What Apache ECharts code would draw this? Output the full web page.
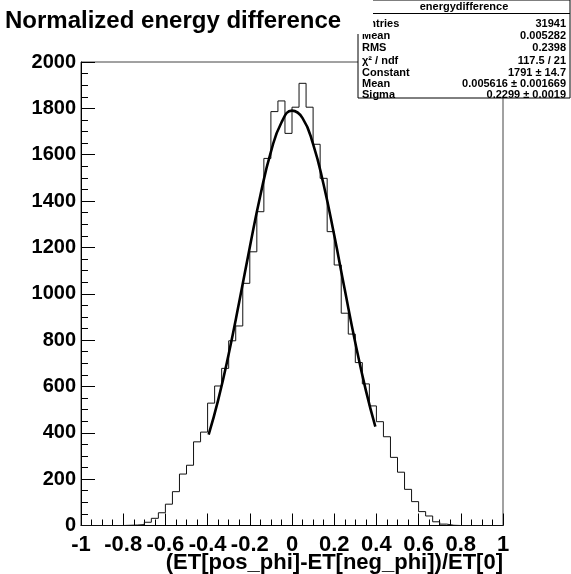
<!DOCTYPE html>
<html>
<head>
<meta charset="utf-8">
<script src="https://cdn.jsdelivr.net/npm/echarts@6/dist/echarts.min.js"></script>
<style>html,body{margin:0;padding:0;background:#fff}#c{width:571px;height:574px}</style>
</head>
<body>
<div id="c"></div>
<script>
// Histogram: 60 bins over [-1, 1]
const binLow = -1;
const binHigh = 1;
const binCounts = [0,0,0,0,0,0,1,2,4,14,31,55,92,146,222,260,361,403,528,602,678,797,861,1045,1181,1354,1584,1786,1832,1692,1805,1908,1805,1645,1498,1268,1124,916,826,703,611,516,448,383,294,230,156,103,60,41,16,6,1,0,0,0,0,0,0,0];
// Gaussian fit curve
const fitX = [-0.395,-0.35,-0.30,-0.25,-0.20,-0.15,-0.10,-0.05,0.00,0.05,0.10,0.15,0.20,0.25,0.30,0.35,0.395];
const fitY = [392,541,740,965,1201,1424,1612,1739,1790,1758,1646,1470,1253,1018,789,583,427];
const xTicks = ['-1','-0.8','-0.6','-0.4','-0.2','0','0.2','0.4','0.6','0.8','1'];
const xTitle = '(ET[pos_phi]-ET[neg_phi])/ET[0]';
const statsLabels = ['Entries','Mean','RMS','\u03c7\u00b2 / ndf','Constant','Mean','Sigma'];
const statsValues = ['31941','0.005282','0.2398','117.5 / 21','1791 \u00b1 14.7','0.005616 \u00b1 0.001669','0.2299 \u00b1 0.0019'];

const nb = binCounts.length;
const bw = (binHigh - binLow) / nb;
const histData = binCounts.map((v, k) => [binLow + k * bw, v]);
histData.push([binHigh, binCounts[nb - 1]]);
const fitData = fitX.map((x, i) => [x, fitY[i]]);

const FONT = 'Liberation Sans, Arial, Helvetica, sans-serif';
const chart = echarts.init(document.getElementById('c'), null, {renderer: 'canvas'});

const els = [];
const boxX = 358, boxY = 0, boxW = 212, boxH = 98;
els.push({type: 'rect', z: 1, shape: {x: boxX, y: boxY, width: boxW, height: boxH}, style: {fill: '#fff', stroke: '#000', lineWidth: 1}});
els.push({type: 'line', z: 2, shape: {x1: boxX, y1: 13.5, x2: boxX + boxW, y2: 13.5}, style: {stroke: '#000', lineWidth: 1}});
els.push({type: 'text', z: 2, style: {text: 'energydifference', x: boxX + boxW / 2, y: 7, align: 'center', verticalAlign: 'middle', font: 'bold 11px ' + FONT, fill: '#000'}});
const rowY = [24, 36, 48, 60.5, 72.5, 84, 94.5];
statsLabels.forEach((t, i) => {
  els.push({type: 'text', z: 2, style: {text: t, x: 362, y: rowY[i], align: 'left', verticalAlign: 'middle', font: 'bold 11px ' + FONT, fill: '#000'}});
  els.push({type: 'text', z: 2, style: {text: statsValues[i], x: 566, y: rowY[i], align: 'right', verticalAlign: 'middle', font: 'bold 11px ' + FONT, fill: '#000'}});
});
// white title pad covering the stats box corner
els.push({type: 'rect', z: 50, shape: {x: 0, y: 0, width: 373, height: 34}, style: {fill: '#fff'}});
// x-axis title, right-aligned with the axis end
els.push({type: 'text', z: 60, style: {text: xTitle, x: 503, y: 563, align: 'right', verticalAlign: 'middle', font: 'bold 22px ' + FONT, fill: '#000'}});

chart.setOption({
  animation: false,
  backgroundColor: '#fff',
  title: {
    text: 'Normalized energy difference',
    left: 5, top: 9, padding: 0, z: 100,
    textStyle: {fontFamily: FONT, fontSize: 24, fontWeight: 'bold', color: '#000'}
  },
  graphic: {elements: els},
  grid: {left: 81, top: 62, width: 422, height: 463.5, containLabel: false, outerBoundsMode: 'none', show: true, borderColor: '#444', borderWidth: 1, backgroundColor: 'transparent'},
  xAxis: {
    type: 'value', min: -1, max: 1, interval: 0.2,
    axisLine: {show: true, onZero: false, lineStyle: {color: '#000', width: 1}},
    axisTick: {show: true, inside: true, length: 12, lineStyle: {color: '#000'}},
    minorTick: {show: true, splitNumber: 4, length: 6, lineStyle: {color: '#000'}},
    splitLine: {show: false},
    axisLabel: {
      margin: 8, color: '#000', fontFamily: FONT, fontSize: 22, fontWeight: 'bold', hideOverlap: false,
      formatter: (v) => xTicks[Math.round((v + 1) / 0.2)]
    }
  },
  yAxis: {
    type: 'value', min: 0, max: 2000, interval: 200,
    axisLine: {show: true, onZero: false, lineStyle: {color: '#000', width: 1}},
    axisTick: {show: true, inside: true, length: 14, lineStyle: {color: '#000'}},
    minorTick: {show: true, splitNumber: 4, length: 7, lineStyle: {color: '#000'}},
    splitLine: {show: false},
    axisLabel: {margin: 5, color: '#000', fontFamily: FONT, fontSize: 20, fontWeight: 'bold', formatter: (v) => String(v)}
  },
  series: [
    {
      type: 'line', name: 'hist', data: histData, step: 'end', symbol: 'none',
      lineStyle: {color: '#111', width: 1}, z: 3, silent: true
    },
    {
      type: 'line', name: 'fit', data: fitData, smooth: true, symbol: 'none',
      lineStyle: {color: '#000', width: 2.6}, z: 4, silent: true
    }
  ]
});
</script>
</body>
</html>
